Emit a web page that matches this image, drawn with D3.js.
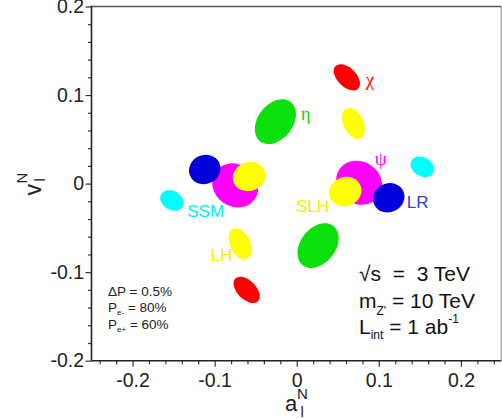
<!DOCTYPE html>
<html><head><meta charset="utf-8">
<script src="https://cdn.jsdelivr.net/npm/d3@7"></script>
<style>
body{margin:0;background:#fff;}
svg{display:block;font-family:"Liberation Sans",Arial,sans-serif;}
</style>
</head><body>
<svg id="chart" width="502" height="419"></svg>
<script>
// ---------- data ----------
// error ellipses: centre (a_l^N, v_l^N), semi-axes (data units), tilt (deg)
const ellModel = ["SSM","SSM-","psi-","psi","LR-","LR","SLH-","SLH","LH+","LH","eta","eta-","chi","chi-"];
const ellA     = [-0.152, 0.153, -0.075, 0.076, -0.112, 0.112, -0.058, 0.059, 0.069, -0.069, -0.026, 0.026, 0.061, -0.061];
const ellV     = [-0.019, 0.019, -0.002, 0.001, 0.016, -0.016, 0.008, -0.009, 0.068, -0.068, 0.070, -0.070, 0.120, -0.120];
const ellMajor = [0.0152, 0.0152, 0.0292, 0.0292, 0.0195, 0.0195, 0.0201, 0.0201, 0.0201, 0.0201, 0.0304, 0.0304, 0.0195, 0.0195];
const ellMinor = [0.0116, 0.0116, 0.0256, 0.0256, 0.0176, 0.0176, 0.0176, 0.0176, 0.0122, 0.0122, 0.0213, 0.0213, 0.0116, 0.0116];
const ellTilt  = [30, 30, 35, 35, -25, -25, -20, -20, 65, 65, -52, -52, 45, 45];
const ellColor = ["#00ffff","#00ffff","#ff00ff","#ff00ff","#0000dd","#0000dd","#ffff00","#ffff00","#ffff00","#ffff00","#0be00b","#0be00b","#ff0000","#ff0000"];

// model labels
const labText  = ["SSM","LH","SLH","LR","χ","ψ","η"];
const labA     = [-0.1334, -0.1049, -0.001, 0.1340, 0.0840, 0.0950, 0.0050];
const labV     = [-0.0381, -0.0871, -0.0321, -0.0279, 0.1105, 0.0210, 0.0713];
const labColor = ["#00f0f0","#f0f000","#f0f000","#3c3cd6","#ff0000","#ff00ff","#0bd80b"];
const labGreek = [false,false,false,false,true,true,true];

// axes
const xTicks = [-0.2, -0.1, 0, 0.1, 0.2];
const xTickLabels = ["-0.2","-0.1","0","0.1","0.2"];
const yTicks = [-0.2, -0.1, 0, 0.1, 0.2];
const yTickLabels = ["-0.2","-0.1","0","0.1","0.2"];

// ---------- chart ----------
const svg = d3.select("#chart");
const x = d3.scaleLinear().domain([-0.25, 0.25]).range([91.5, 502]);
const y = d3.scaleLinear().domain([-0.2, 0.2]).range([360.7, 6.5]);
const r = v => x(v) - x(0);

// ellipses
const ells = ellA.map((a, i) => ({a, v: ellV[i], M: ellMajor[i], m: ellMinor[i], t: ellTilt[i], c: ellColor[i]}));
svg.append("g").selectAll("ellipse").data(ells).join("ellipse")
  .attr("cx", 0).attr("cy", 0)
  .attr("rx", d => r(d.M)).attr("ry", d => r(d.m))
  .attr("transform", d => `translate(${x(d.a)},${y(d.v)}) rotate(${d.t})`)
  .attr("fill", d => d.c);

// labels
svg.append("g").selectAll("text").data(labText).join("text")
  .attr("x", (d, i) => x(labA[i])).attr("y", (d, i) => y(labV[i]))
  .attr("fill", (d, i) => labColor[i])
  .attr("font-size", (d, i) => labGreek[i] ? 19 : 17)
  .attr("font-family", (d, i) => labGreek[i] ? "'Liberation Serif','DejaVu Serif',serif" : null)
  .text(d => d);

// axes
const minorX = d3.range(-0.24, 0.2401, 0.02).filter(v => xTicks.every(t => Math.abs(t - v) > 1e-6));
const minorY = d3.range(-0.18, 0.1801, 0.02).filter(v => yTicks.every(t => Math.abs(t - v) > 1e-6));

const gx = svg.append("g").attr("transform", `translate(0,${y(-0.2)})`);
gx.call(d3.axisBottom(x).tickValues(minorX).tickSize(3.5).tickFormat(""));
gx.call(g => g.select(".domain").remove());
const gx2 = svg.append("g").attr("transform", `translate(0,${y(-0.2)})`);
gx2.call(d3.axisBottom(x).tickValues(xTicks).tickSize(6).tickPadding(6)
  .tickFormat((d, i) => xTickLabels[i]));
gx2.select(".domain").remove();

const gy = svg.append("g").attr("transform", `translate(${x(-0.25)},0)`);
gy.call(d3.axisLeft(y).tickValues(minorY).tickSize(3.5).tickFormat(""));
gy.select(".domain").remove();
const gy2 = svg.append("g").attr("transform", `translate(${x(-0.25)},0)`);
gy2.call(d3.axisLeft(y).tickValues(yTicks).tickSize(6).tickPadding(1.5)
  .tickFormat((d, i) => yTickLabels[i]));
gy2.select(".domain").remove();

svg.selectAll(".tick line").attr("stroke", "#333").attr("stroke-width", 1.2);
svg.selectAll(".tick text").attr("font-size", 19.5).attr("fill", "#222")
  .attr("font-family", "'Liberation Sans',Arial,sans-serif");

// frame
const X0 = x(-0.25), X1 = x(0.25) - 0.8, Y0 = y(0.2), Y1 = y(-0.2);
svg.append("line").attr("x1", X0).attr("x2", X1).attr("y1", Y0).attr("y2", Y0).attr("stroke", "#555").attr("stroke-width", 1.6);
svg.append("line").attr("x1", X1).attr("x2", X1).attr("y1", Y0).attr("y2", Y1).attr("stroke", "#999").attr("stroke-width", 1.2);
svg.append("line").attr("x1", X0).attr("x2", X0).attr("y1", Y0 - 0.8).attr("y2", Y1).attr("stroke", "#222").attr("stroke-width", 1.6);
svg.append("line").attr("x1", X0).attr("x2", X1).attr("y1", Y1).attr("y2", Y1).attr("stroke", "#222").attr("stroke-width", 1.6);

// axis titles
const xt = svg.append("g").attr("fill", "#222");
xt.append("text").attr("x", 285).attr("y", 411).attr("font-size", 22).text("a");
xt.append("text").attr("x", 297).attr("y", 399).attr("font-size", 15).text("N");
xt.append("text").attr("x", 300.5).attr("y", 416.5).attr("font-size", 15).text("l");

const yt = svg.append("g").attr("fill", "#222").attr("transform", "translate(40.7,195.5) rotate(-90)");
yt.append("text").attr("x", 0).attr("y", 0).attr("font-size", 23).text("v");
yt.append("text").attr("x", 12).attr("y", -14).attr("font-size", 15).text("N");
yt.append("text").attr("x", 14).attr("y", 4.5).attr("font-size", 15).text("l");

// annotations, bottom right
const ann = svg.append("g").attr("fill", "#111").attr("font-size", 21);
ann.append("text").attr("x", 359).attr("y", 280.5).text("√s  =  3 TeV").attr("xml:space", "preserve");
const t2 = ann.append("text").attr("x", 359).attr("y", 307.5);
t2.append("tspan").text("m");
t2.append("tspan").attr("font-size", 12).attr("dy", 7).text("Z'");
t2.append("tspan").attr("dy", -7).text(" = 10 TeV");
const t3 = ann.append("text").attr("x", 359).attr("y", 334);
t3.append("tspan").text("L");
t3.append("tspan").attr("font-size", 12).attr("dy", 5).text("int");
t3.append("tspan").attr("dy", -5).text(" = 1 ab");
t3.append("tspan").attr("font-size", 12).attr("dy", -11).text("-1");

// annotations, bottom left
const pol = svg.append("g").attr("fill", "#222").attr("font-size", 13.5);
pol.append("text").attr("x", 108).attr("y", 296).text("ΔP = 0.5%");
const p2 = pol.append("text").attr("x", 108).attr("y", 311.5);
p2.append("tspan").text("P");
p2.append("tspan").attr("font-size", 8).attr("dy", 3).text("e-");
p2.append("tspan").attr("dy", -3).text(" = 80%");
const p3 = pol.append("text").attr("x", 108).attr("y", 328.5);
p3.append("tspan").text("P");
p3.append("tspan").attr("font-size", 8).attr("dy", 3).text("e+");
p3.append("tspan").attr("dy", -3).text(" = 60%");
</script>
</body></html>
